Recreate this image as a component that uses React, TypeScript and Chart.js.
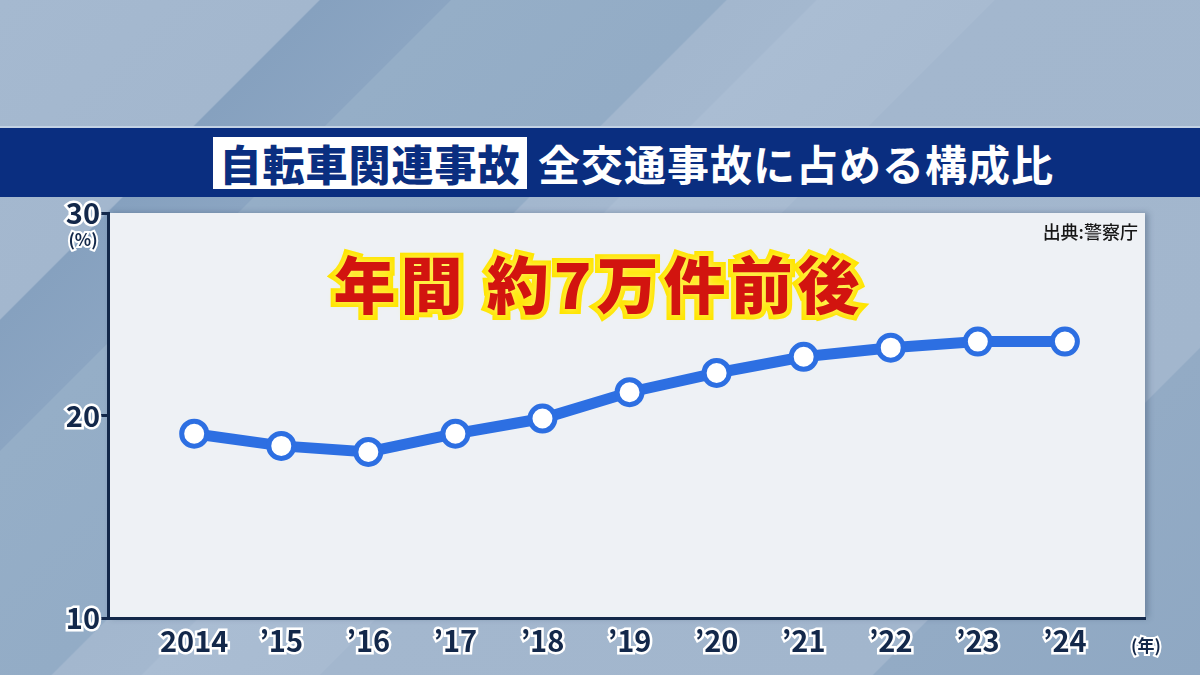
import React, { useEffect, useRef } from "react";
import { Chart, registerables } from "chart.js";

Chart.register(...registerables);

const years = ["2014", "’15", "’16", "’17", "’18", "’19", "’20", "’21", "’22", "’23", "’24"];
const shares = [19.1, 18.5, 18.2, 19.1, 19.85, 21.15, 22.1, 22.9, 23.35, 23.65, 23.65];
const yTicks = [10, 20, 30];

const titleBoxed = "自転車関連事故";
const titleRest = "全交通事故に占める構成比";
const headline = "年間 約7万件前後";
const source = "出典:警察庁";
const yUnit = "(%)";
const xUnit = "(年)";

const FONT = '"Noto Sans CJK JP", "Noto Sans", sans-serif';
const NAVY = "#13284a";
const BLUE = "#2d6fe2";

const plotBg = {
  id: "plotBg",
  beforeDraw(chart: any) {
    const { ctx, chartArea } = chart;
    ctx.save();
    ctx.shadowColor = "rgba(40,60,90,0.35)";
    ctx.shadowBlur = 6;
    ctx.shadowOffsetX = 3;
    ctx.fillStyle = "#eef1f5";
    ctx.fillRect(chartArea.left, chartArea.top, chartArea.right - chartArea.left, chartArea.bottom - chartArea.top);
    ctx.restore();
  },
};

export default function App() {
  const ref = useRef<HTMLCanvasElement | null>(null);

  useEffect(() => {
    if (!ref.current) return;
    const chart = new Chart(ref.current, {
      type: "line",
      data: {
        datasets: [
          {
            data: shares.map((v, i) => ({ x: i, y: v })),
            borderColor: BLUE,
            borderWidth: 11,
            pointRadius: 12.5,
            pointBorderWidth: 5,
            pointBackgroundColor: "#ffffff",
            pointBorderColor: BLUE,
            tension: 0,
          },
        ],
      },
      options: {
        animation: false,
        responsive: false,
        devicePixelRatio: 1,
        layout: { padding: { top: 213, right: 55, left: 0, bottom: 0 } },
        plugins: { legend: { display: false }, tooltip: { enabled: false } },
        scales: {
          x: {
            type: "linear",
            min: -0.99,
            max: 10.92,
            afterBuildTicks: (axis: any) => {
              axis.ticks = years.map((_, i) => ({ value: i }));
            },
            afterFit: (scale: any) => {
              scale.height = 57;
            },
            ticks: {
              autoSkip: false,
              maxRotation: 0,
              padding: 6,
              color: NAVY,
              textStrokeColor: "#ffffff",
              textStrokeWidth: 5,
              font: { family: FONT, size: 29, weight: "bold" },
              callback: (v: any) => years[v as number] ?? "",
            },
            grid: { drawOnChartArea: false, drawTicks: false, color: NAVY },
            border: { color: NAVY, width: 3 },
          },
          y: {
            type: "linear",
            min: 10,
            max: 30,
            afterBuildTicks: (axis: any) => {
              axis.ticks = yTicks.map((v) => ({ value: v }));
            },
            afterFit: (scale: any) => {
              scale.width = 108;
            },
            ticks: {
              padding: 0,
              color: NAVY,
              textStrokeColor: "#ffffff",
              textStrokeWidth: 5,
              font: { family: FONT, size: 29, weight: "bold" },
            },
            grid: { drawOnChartArea: false, tickLength: 8, color: NAVY, lineWidth: 3 },
            border: { color: NAVY, width: 3 },
          },
        },
      },
      plugins: [plotBg],
    } as any);
    return () => chart.destroy();
  }, []);

  const stroke = (w: number, c: string) => ({
    WebkitTextStroke: `${w}px ${c}`,
    paintOrder: "stroke fill",
  } as any);

  return (
    <div
      style={{
        position: "fixed",
        left: 0,
        top: 0,
        width: 1200,
        height: 675,
        overflow: "hidden",
        fontFamily: FONT,
        background:
          "linear-gradient(135deg, #a5b9d0 0%, #a3b7ce 17%, #86a1bf 17.1%, #8ba5c2 24%, #95aec7 24.1%, #93acc6 38.7%, #a3b7ce 38.8%, #a4b8cf 43.5%, #aabdd3 43.6%, #a8bbd1 53%, #a3b7ce 53.1%, #a2b6cd 82.5%, #93abc5 82.6%, #8fa8c3 100%)",
      }}
    >
      <div
        style={{
          position: "absolute",
          left: 0,
          top: 126,
          width: 1200,
          height: 71,
          background: "#0a2e80",
          borderTop: "2px solid #c3d2e4",
          boxSizing: "border-box",
        }}
      />
      <div
        style={{
          position: "absolute",
          left: 213,
          top: 137,
          width: 314,
          height: 52,
          background: "#ffffff",
          color: "#0a2e80",
          fontWeight: 900,
          fontSize: 42,
          lineHeight: "52px",
          textAlign: "center",
          letterSpacing: 1,
          whiteSpace: "nowrap",
        }}
      >
        {titleBoxed}
      </div>
      <div
        style={{
          position: "absolute",
          left: 538,
          top: 137,
          height: 52,
          color: "#ffffff",
          fontWeight: 700,
          fontSize: 42,
          lineHeight: "52px",
          letterSpacing: 1,
          whiteSpace: "nowrap",
        }}
      >
        {titleRest}
      </div>
      <canvas ref={ref} width={1200} height={675} style={{ position: "absolute", left: 0, top: 0, width: 1200, height: 675 }} />
      <div
        style={{
          position: "absolute",
          left: 62,
          top: 228,
          width: 42,
          textAlign: "center",
          fontSize: 17,
          fontWeight: 700,
          color: NAVY,
          lineHeight: "22px",
          ...stroke(4, "#ffffff"),
        }}
      >
        {yUnit}
      </div>
      <div
        style={{
          position: "absolute",
          left: 1126,
          top: 633,
          width: 40,
          textAlign: "center",
          fontSize: 17,
          fontWeight: 700,
          color: NAVY,
          lineHeight: "24px",
          ...stroke(4, "#ffffff"),
        }}
      >
        {xUnit}
      </div>
      <div
        style={{
          position: "absolute",
          right: 1200 - 1138,
          top: 219,
          fontSize: 18,
          fontWeight: 500,
          color: "#161616",
          lineHeight: "24px",
          whiteSpace: "nowrap",
        }}
      >
        {source}
      </div>
      <div
        style={{
          position: "absolute",
          left: 297,
          top: 244,
          width: 604,
          textAlign: "center",
          fontSize: 62,
          fontWeight: 900,
          color: "#d2140f",
          lineHeight: "76px",
          letterSpacing: 5,
          whiteSpace: "pre",
          ...stroke(10, "#ffe500"),
          textShadow: "0 0 7px #fff36a",
        }}
      >
        {headline}
      </div>
    </div>
  );
}
